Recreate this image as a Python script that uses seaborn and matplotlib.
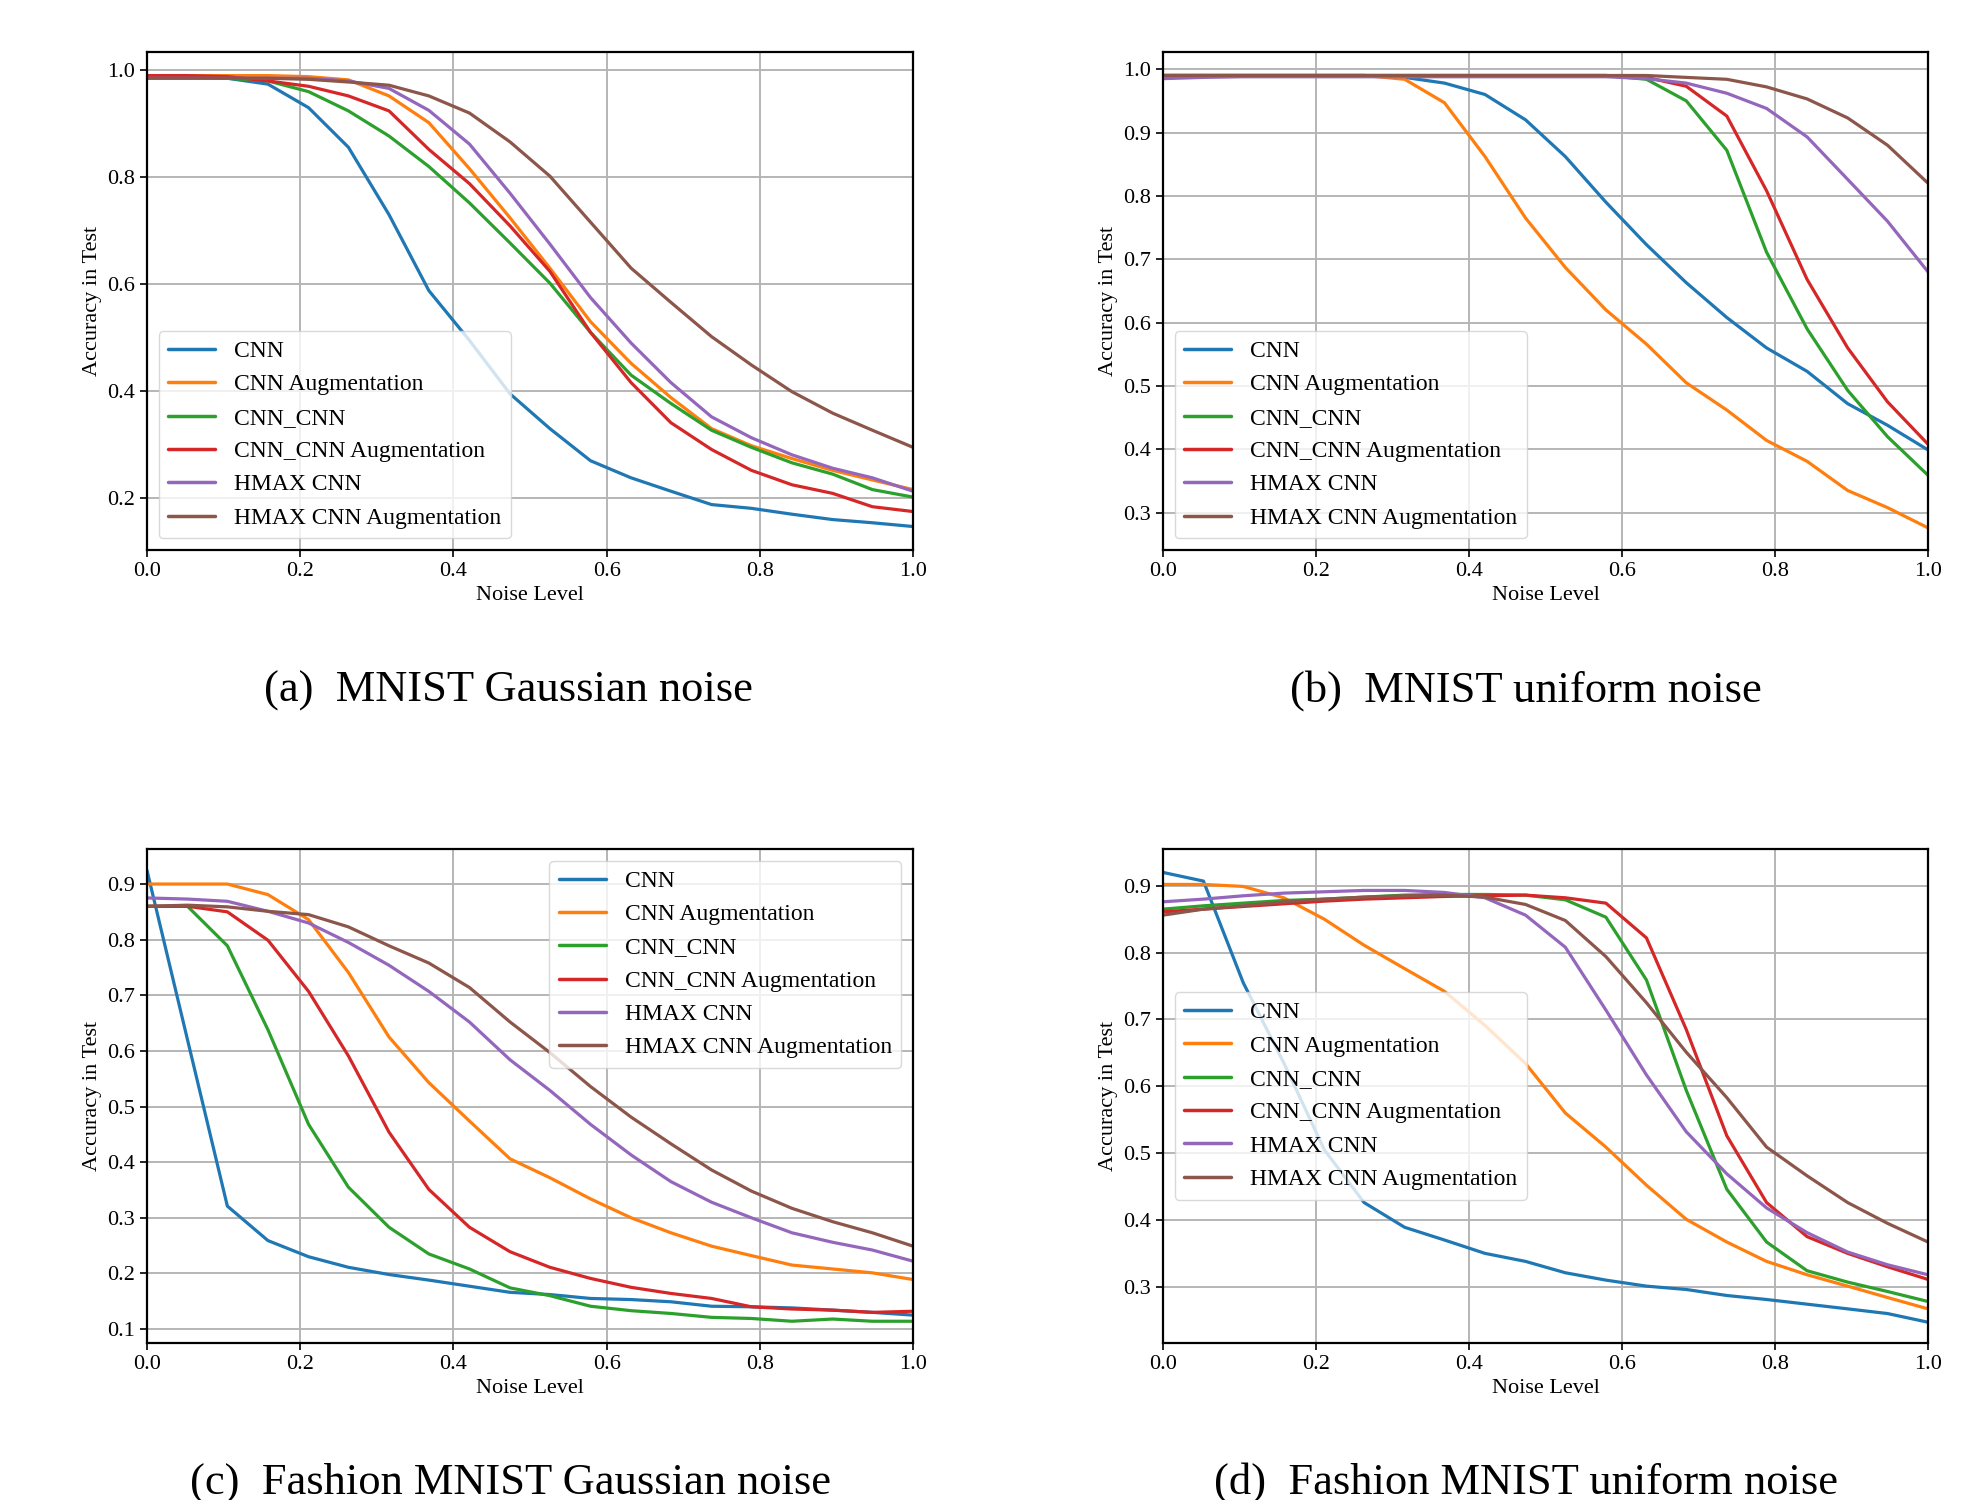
import pandas as pd
import seaborn as sns
import matplotlib.pyplot as plt

# noise levels used in every experiment (20 steps from 0 to 1)
noise = [0.0, 0.053, 0.105, 0.158, 0.211, 0.263, 0.316, 0.368, 0.421, 0.474,
         0.526, 0.579, 0.632, 0.684, 0.737, 0.789, 0.842, 0.895, 0.947, 1.0]

models = ["CNN", "CNN Augmentation", "CNN_CNN", "CNN_CNN Augmentation",
          "HMAX CNN", "HMAX CNN Augmentation"]

# (a) MNIST gaussian noise
a_cnn = [0.99, 0.99, 0.985, 0.974, 0.93, 0.856, 0.73, 0.588, 0.495, 0.395,
         0.33, 0.27, 0.238, 0.213, 0.188, 0.181, 0.17, 0.16, 0.154, 0.147]
a_cnn_aug = [0.99, 0.99, 0.99, 0.99, 0.988, 0.982, 0.952, 0.902, 0.816, 0.724,
             0.63, 0.53, 0.452, 0.388, 0.33, 0.298, 0.274, 0.252, 0.234, 0.216]
a_cc = [0.99, 0.988, 0.985, 0.98, 0.96, 0.924, 0.877, 0.82, 0.752, 0.677,
        0.602, 0.51, 0.43, 0.377, 0.327, 0.295, 0.266, 0.245, 0.216, 0.202]
a_cc_aug = [0.99, 0.99, 0.988, 0.98, 0.97, 0.952, 0.924, 0.852, 0.788, 0.709,
            0.624, 0.51, 0.416, 0.341, 0.291, 0.252, 0.225, 0.209, 0.184, 0.175]
a_hmax = [0.985, 0.985, 0.985, 0.985, 0.985, 0.98, 0.966, 0.925, 0.862, 0.77,
          0.675, 0.575, 0.49, 0.416, 0.352, 0.313, 0.281, 0.256, 0.238, 0.213]
a_hmax_aug = [0.985, 0.985, 0.985, 0.985, 0.983, 0.978, 0.972, 0.952, 0.92, 0.866,
              0.802, 0.716, 0.63, 0.566, 0.502, 0.449, 0.399, 0.359, 0.327, 0.295]

# (b) MNIST uniform noise
b_cnn = [0.99, 0.99, 0.99, 0.99, 0.99, 0.99, 0.987, 0.978, 0.96, 0.92,
         0.862, 0.79, 0.723, 0.663, 0.608, 0.56, 0.523, 0.472, 0.438, 0.399]
b_cnn_aug = [0.99, 0.99, 0.99, 0.99, 0.99, 0.99, 0.984, 0.947, 0.862, 0.765,
             0.687, 0.62, 0.566, 0.505, 0.462, 0.414, 0.381, 0.335, 0.308, 0.276]
b_cc = [0.99, 0.99, 0.99, 0.99, 0.99, 0.99, 0.99, 0.99, 0.99, 0.99,
        0.99, 0.99, 0.984, 0.95, 0.872, 0.711, 0.59, 0.493, 0.42, 0.359]
b_cc_aug = [0.99, 0.99, 0.99, 0.99, 0.99, 0.99, 0.99, 0.99, 0.99, 0.99,
            0.99, 0.99, 0.987, 0.973, 0.926, 0.808, 0.668, 0.56, 0.475, 0.408]
b_hmax = [0.985, 0.987, 0.988, 0.988, 0.988, 0.988, 0.988, 0.988, 0.988, 0.988,
          0.988, 0.988, 0.985, 0.978, 0.962, 0.938, 0.893, 0.826, 0.76, 0.68]
b_hmax_aug = [0.99, 0.99, 0.99, 0.99, 0.99, 0.99, 0.99, 0.99, 0.99, 0.99,
              0.99, 0.99, 0.99, 0.987, 0.984, 0.972, 0.953, 0.923, 0.88, 0.82]

# (c) Fashion MNIST gaussian noise
c_cnn = [0.925, 0.62, 0.321, 0.259, 0.23, 0.211, 0.198, 0.188, 0.177, 0.166,
         0.162, 0.155, 0.153, 0.149, 0.141, 0.14, 0.138, 0.134, 0.13, 0.125]
c_cnn_aug = [0.9, 0.9, 0.9, 0.881, 0.836, 0.741, 0.625, 0.543, 0.474, 0.406,
             0.372, 0.334, 0.3, 0.273, 0.249, 0.232, 0.215, 0.208, 0.201, 0.189]
c_cc = [0.86, 0.86, 0.789, 0.638, 0.468, 0.355, 0.283, 0.235, 0.208, 0.174,
        0.16, 0.141, 0.133, 0.128, 0.121, 0.119, 0.114, 0.118, 0.114, 0.114]
c_cc_aug = [0.86, 0.86, 0.85, 0.799, 0.707, 0.591, 0.454, 0.351, 0.283, 0.239,
            0.211, 0.191, 0.175, 0.164, 0.155, 0.14, 0.136, 0.134, 0.13, 0.132]
c_hmax = [0.875, 0.873, 0.869, 0.851, 0.83, 0.795, 0.754, 0.707, 0.652, 0.584,
          0.529, 0.468, 0.413, 0.365, 0.328, 0.3, 0.273, 0.256, 0.242, 0.222]
c_hmax_aug = [0.86, 0.862, 0.859, 0.851, 0.845, 0.823, 0.789, 0.758, 0.714, 0.652,
              0.597, 0.536, 0.481, 0.433, 0.386, 0.348, 0.317, 0.293, 0.273, 0.249]

# (d) Fashion MNIST uniform noise
d_cnn = [0.92, 0.907, 0.755, 0.635, 0.505, 0.426, 0.389, 0.37, 0.35, 0.338,
         0.321, 0.31, 0.301, 0.296, 0.287, 0.281, 0.274, 0.267, 0.26, 0.247]
d_cnn_aug = [0.902, 0.902, 0.899, 0.882, 0.85, 0.811, 0.776, 0.742, 0.691, 0.634,
             0.56, 0.509, 0.452, 0.401, 0.367, 0.338, 0.318, 0.301, 0.284, 0.267]
d_cc = [0.865, 0.87, 0.874, 0.878, 0.88, 0.883, 0.886, 0.887, 0.887, 0.886,
        0.879, 0.853, 0.759, 0.594, 0.446, 0.367, 0.324, 0.307, 0.293, 0.278]
d_cc_aug = [0.861, 0.865, 0.869, 0.873, 0.877, 0.88, 0.882, 0.884, 0.885, 0.886,
            0.882, 0.874, 0.822, 0.685, 0.526, 0.426, 0.375, 0.35, 0.33, 0.311]
d_hmax = [0.876, 0.88, 0.885, 0.889, 0.891, 0.893, 0.893, 0.89, 0.882, 0.856,
          0.808, 0.714, 0.617, 0.532, 0.469, 0.418, 0.381, 0.352, 0.333, 0.318]
d_hmax_aug = [0.856, 0.865, 0.87, 0.876, 0.88, 0.883, 0.885, 0.886, 0.883, 0.872,
              0.848, 0.794, 0.725, 0.651, 0.583, 0.509, 0.466, 0.426, 0.395, 0.367]

captions = ["(a)  MNIST Gaussian noise", "(b)  MNIST uniform noise",
            "(c)  Fashion MNIST Gaussian noise", "(d)  Fashion MNIST uniform noise"]

panels = [
    [a_cnn, a_cnn_aug, a_cc, a_cc_aug, a_hmax, a_hmax_aug],
    [b_cnn, b_cnn_aug, b_cc, b_cc_aug, b_hmax, b_hmax_aug],
    [c_cnn, c_cnn_aug, c_cc, c_cc_aug, c_hmax, c_hmax_aug],
    [d_cnn, d_cnn_aug, d_cc, d_cc_aug, d_hmax, d_hmax_aug],
]
yticks = [[0.2, 0.4, 0.6, 0.8, 1.0],
          [0.3, 0.4, 0.5, 0.6, 0.7, 0.8, 0.9, 1.0],
          [0.1, 0.2, 0.3, 0.4, 0.5, 0.6, 0.7, 0.8, 0.9],
          [0.3, 0.4, 0.5, 0.6, 0.7, 0.8, 0.9]]
ylims = [(0.103, 1.034), (0.241, 1.027), (0.075, 0.963), (0.216, 0.955)]
legend_locs = ["lower left", "lower left", "upper right", "center left"]

sns.set_theme(style="ticks")
plt.rcParams["font.family"] = ["Liberation Serif", "DejaVu Serif"]
plt.rcParams["text.color"] = "black"
plt.rcParams["axes.labelcolor"] = "black"

fig = plt.figure(figsize=(19.72, 15), dpi=100)

# axes boxes in figure fractions (left, bottom, width, height)
boxes = [(0.0745, 0.6333, 0.3885, 0.332),
         (0.5897, 0.6333, 0.3880, 0.332),
         (0.0745, 0.1047, 0.3885, 0.3293),
         (0.5897, 0.1047, 0.3880, 0.3293)]
caption_x = [0.258, 0.774, 0.259, 0.774]
caption_y = [0.532, 0.532, 0.004, 0.004]

for i in range(4):
    ax = fig.add_axes(boxes[i])
    rows = []
    for name, vals in zip(models, panels[i]):
        for x, y in zip(noise, vals):
            rows.append({"Noise Level": x, "Accuracy": y, "Model": name})
    df = pd.DataFrame(rows)
    sns.lineplot(data=df, x="Noise Level", y="Accuracy", hue="Model",
                 hue_order=models, palette="tab10", linewidth=2.3, ax=ax,
                 errorbar=None)
    ax.set_xlim(0, 1)
    ax.set_ylim(*ylims[i])
    ax.set_xticks([0.0, 0.2, 0.4, 0.6, 0.8, 1.0])
    ax.set_yticks(yticks[i])
    ax.set_xticklabels(["0.0", "0.2", "0.4", "0.6", "0.8", "1.0"])
    ax.set_yticklabels(["%.1f" % t for t in yticks[i]])
    ax.grid(True, color="#b5b5b5", linewidth=1.4)
    ax.set_axisbelow(True)
    for s in ax.spines.values():
        s.set_color("black")
        s.set_linewidth(1.6)
    ax.tick_params(axis="both", labelsize=16, colors="black", length=5, width=1.2)
    ax.set_xlabel("Noise Level", fontsize=16, color="black")
    ax.set_ylabel("Accuracy in Test", fontsize=16, color="black")
    sns.move_legend(ax, legend_locs[i], title=None, fontsize=17, frameon=True,
                    framealpha=0.8, edgecolor="#d0d0d0", fancybox=True)
    for line in ax.get_legend().get_lines():
        line.set_linewidth(2.5)
    for t in ax.get_legend().get_texts():
        t.set_color("black")
    fig.text(caption_x[i], caption_y[i], captions[i], fontsize=32,
             ha="center", va="baseline", color="black")

fig.savefig("out.png", dpi=100, facecolor="white")
